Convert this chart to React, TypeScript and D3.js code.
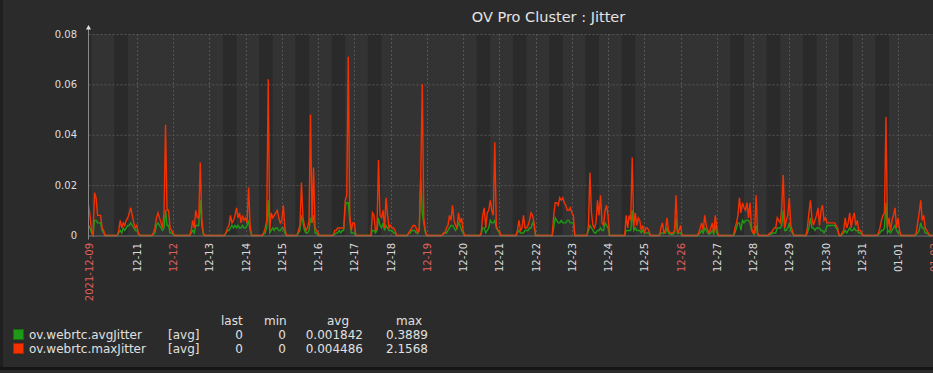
import React from "react";
import * as d3 from "d3";

// first sample / end of the time window
const startTime = new Date(2021, 11, 9, 16);
const endTime = new Date(2022, 0, 2, 0);

// hourly samples starting 2021-12-09 16:00, one line per day, in ms
const maxJitterMs = [
  /* 12-09 */ 12, 8, 2, 0, 17, 15, 8, 8,
  /* 12-10 */ 8, 3, 2, 0, 0, 0, 0, 0, 0, 0, 0, 0, 2, 6, 3, 5, 4, 6, 7, 9, 11, 8, 5, 3,
  /* 12-11 */ 4, 1, 0, 0, 0, 0, 0, 0, 0, 0, 0, 1, 3, 7, 9, 7, 5, 3, 9, 44, 10, 10, 3, 2,
  /* 12-12 */ 1, 0, 0, 0, 0, 0, 0, 0, 0, 0, 0, 0, 2, 6, 3, 10, 7, 7, 29, 7, 1, 0, 0, 0,
  /* 12-13 */ 0, 0, 0, 0, 0, 0, 0, 0, 0, 0, 0, 1, 3, 4, 8, 5, 6, 8, 11, 7, 9, 5, 8, 6,
  /* 12-14 */ 7, 5, 19, 4, 0, 0, 0, 0, 0, 0, 0, 0, 1, 3, 6, 62, 2, 9, 7, 8, 9, 10, 7, 5,
  /* 12-15 */ 6, 12, 3, 0, 0, 0, 0, 0, 0, 0, 0, 2, 4, 21, 7, 4, 2, 3, 6, 48, 5, 27, 3, 2,
  /* 12-16 */ 1, 0, 0, 0, 0, 0, 0, 0, 0, 0, 0, 2, 2, 3, 3, 3, 3, 3, 14, 16, 71, 8, 2, 5,
  /* 12-17 */ 5, 0, 0, 0, 0, 0, 0, 0, 0, 0, 0, 0, 9, 8, 2, 3, 30, 8, 7, 10, 3, 15, 8, 3,
  /* 12-18 */ 4, 3, 3, 2, 0, 0, 0, 0, 0, 0, 0, 0, 1, 2, 3, 4, 4, 3, 1, 3, 25, 60, 7, 2,
  /* 12-19 */ 0, 0, 0, 0, 0, 0, 0, 0, 0, 0, 0, 1, 1, 3, 4, 8, 6, 12, 6, 4, 3, 9, 5, 7,
  /* 12-20 */ 2, 0, 0, 0, 0, 0, 0, 0, 0, 0, 0, 0, 1, 8, 11, 3, 9, 10, 14, 10, 8, 37, 4, 2,
  /* 12-21 */ 2, 0, 0, 0, 0, 0, 0, 0, 0, 0, 0, 0, 2, 6, 2, 3, 8, 3, 3, 4, 6, 9, 8, 5,
  /* 12-22 */ 0, 0, 0, 0, 0, 0, 0, 0, 0, 0, 0, 0, 8, 13, 13, 12, 15, 14, 15, 13, 12, 10, 10, 11,
  /* 12-23 */ 9, 8, 0, 0, 0, 0, 0, 0, 0, 0, 0, 4, 25, 9, 4, 3, 5, 14, 8, 16, 5, 4, 10, 12,
  /* 12-24 */ 8, 0, 0, 0, 0, 0, 0, 0, 0, 0, 0, 0, 8, 3, 8, 6, 31, 3, 9, 4, 7, 6, 2, 4,
  /* 12-25 */ 1, 3, 3, 2, 0, 0, 0, 0, 0, 0, 0, 3, 5, 1, 2, 7, 2, 1, 1, 1, 2, 16, 1, 2,
  /* 12-26 */ 4, 0, 0, 0, 0, 0, 0, 0, 0, 0, 0, 0, 1, 3, 5, 2, 8, 4, 2, 1, 3, 5, 1, 8,
  /* 12-27 */ 3, 0, 0, 0, 0, 0, 0, 0, 0, 0, 0, 0, 3, 5, 8, 15, 9, 13, 11, 10, 13, 7, 13, 3,
  /* 12-28 */ 1, 1, 16, 1, 0, 0, 0, 0, 0, 0, 0, 1, 1, 2, 3, 3, 7, 6, 5, 11, 24, 3, 6, 8,
  /* 12-29 */ 15, 4, 2, 0, 0, 0, 0, 0, 0, 0, 0, 0, 3, 9, 14, 7, 4, 6, 8, 11, 4, 10, 12, 6,
  /* 12-30 */ 7, 5, 5, 5, 5, 5, 5, 4, 3, 0, 0, 1, 2, 7, 3, 5, 9, 3, 7, 9, 4, 6, 2, 2,
  /* 12-31 */ 1, 0, 0, 0, 0, 0, 0, 0, 0, 0, 0, 1, 3, 6, 8, 9, 47, 3, 7, 2, 6, 8, 11, 3,
  /* 01-01 */ 7, 2, 0, 0, 0, 0, 0, 0, 0, 0, 0, 0, 1, 5, 9, 14, 6, 8, 3, 2, 1, 0, 0, 0,
];

const avgJitterMs = [
  /* 12-09 */ 4, 3, 1, 0, 6, 6, 5, 5,
  /* 12-10 */ 5, 2, 1, 0, 0, 0, 0, 0, 0, 0, 0, 0, 1, 2, 1, 3, 2, 3, 4, 4, 5, 4, 3, 2,
  /* 12-11 */ 2, 1, 0, 0, 0, 0, 0, 0, 0, 0, 0, 0.5, 1, 4, 5, 4, 3, 2, 3, 10, 4, 4, 1, 1,
  /* 12-12 */ 0.5, 0, 0, 0, 0, 0, 0, 0, 0, 0, 0, 0, 1, 2, 1, 4, 4, 4, 14, 4, 0.5, 0, 0, 0,
  /* 12-13 */ 0, 0, 0, 0, 0, 0, 0, 0, 0, 0, 0, 1, 2, 2, 3, 4, 3, 4, 3, 4, 3, 3, 4, 3,
  /* 12-14 */ 3, 4, 6, 2, 0, 0, 0, 0, 0, 0, 0, 0, 0.5, 1, 3, 14, 1, 2, 3, 2, 3, 3, 2, 2,
  /* 12-15 */ 3, 3, 1, 0, 0, 0, 0, 0, 0, 0, 0, 1, 2, 8, 5, 2, 1, 1, 2, 7, 5, 8, 1, 1,
  /* 12-16 */ 0, 0, 0, 0, 0, 0, 0, 0, 0, 0, 0, 0.5, 1, 1, 2, 1, 2, 2, 12, 13, 13, 6, 1, 1,
  /* 12-17 */ 1, 0, 0, 0, 0, 0, 0, 0, 0, 0, 0, 0, 2, 2, 1, 2, 7, 4, 3, 5, 2, 4, 3, 2,
  /* 12-18 */ 2, 2, 1, 1, 0, 0, 0, 0, 0, 0, 0, 0, 1, 1, 2, 2, 2, 1, 1, 2, 23, 9, 5, 1,
  /* 12-19 */ 0, 0, 0, 0, 0, 0, 0, 0, 0, 0, 0, 0.5, 1, 1, 2, 3, 4, 4, 3, 2, 3, 5, 4, 2,
  /* 12-20 */ 1, 0, 0, 0, 0, 0, 0, 0, 0, 0, 0, 0, 0.5, 3, 3, 1, 2, 3, 6, 5, 5, 6, 3, 2,
  /* 12-21 */ 1, 0, 0, 0, 0, 0, 0, 0, 0, 0, 0, 0, 1, 2, 1, 1, 1, 2, 2, 2, 3, 3, 5, 4,
  /* 12-22 */ 0, 0, 0, 0, 0, 0, 0, 0, 0, 0, 0, 0, 3, 7, 6, 5, 5, 6, 5, 5, 5, 6, 6, 5,
  /* 12-23 */ 5, 5, 0, 0, 0, 0, 0, 0, 0, 0, 0, 2, 4, 3, 2, 1, 1, 2, 2, 3, 2, 2, 5, 4,
  /* 12-24 */ 3, 0, 0, 0, 0, 0, 0, 0, 0, 0, 0, 0, 2, 2, 2, 2, 10, 2, 3, 2, 2, 2, 1, 2,
  /* 12-25 */ 1, 1, 1, 1, 0, 0, 0, 0, 0, 0, 0, 1, 1, 1, 1, 3, 1, 0.5, 0.5, 0.5, 1, 7, 1, 1,
  /* 12-26 */ 1, 0, 0, 0, 0, 0, 0, 0, 0, 0, 0, 0, 0.5, 1, 2, 1, 3, 2, 1, 0.5, 1, 2, 0.5, 4,
  /* 12-27 */ 1, 0, 0, 0, 0, 0, 0, 0, 0, 0, 0, 0, 1, 3, 5, 5, 2, 6, 5, 6, 6, 6, 5, 2,
  /* 12-28 */ 1, 0.5, 4, 0.5, 0, 0, 0, 0, 0, 0, 0, 0.5, 0.5, 1, 1, 1, 3, 3, 3, 4, 10, 2, 2, 3,
  /* 12-29 */ 5, 2, 1, 0, 0, 0, 0, 0, 0, 0, 0, 0, 1, 3, 7, 3, 3, 2, 3, 3, 3, 2, 2, 1,
  /* 12-30 */ 2, 4, 4, 4, 4, 4, 4, 3, 2, 0, 0, 0.5, 1, 2, 1, 2, 3, 2, 2, 3, 2, 2, 1, 1,
  /* 12-31 */ 0.5, 0, 0, 0, 0, 0, 0, 0, 0, 0, 0, 0.5, 1, 2, 2, 3, 13, 1, 2, 1, 2, 3, 4, 2,
  /* 01-01 */ 1, 1, 0, 0, 0, 0, 0, 0, 0, 0, 0, 0, 0.5, 1, 2, 5, 3, 3, 1, 1, 0.5, 0, 0, 0,
];

const yTicks = [0, 0.02, 0.04, 0.06, 0.08];

const seriesNames = ["ov.webrtc.avgJitter", "ov.webrtc.maxJitter"];
const seriesColors = ["#1f9a16", "#f63100"];
const legendFunc = ["[avg]", "[avg]"];
const legendLast = ["0", "0"];
const legendMin = ["0", "0"];
const legendAvg = ["0.001842", "0.004486"];
const legendMax = ["0.3889", "2.1568"];

const font = "DejaVu Sans, sans-serif";

export default function App() {
  const width = 933;
  const height = 373;
  const left = 88.5;
  const right = 934.3;
  const top = 34;
  const bottom = 235.5;

  const x = d3.scaleTime().domain([startTime, endTime]).range([left, right]);
  const y = d3.scaleLinear().domain([0, 0.08]).range([bottom, top]);

  const times = maxJitterMs.map((_, i) => d3.timeHour.offset(startTime, i));
  const line = d3
    .line<number>()
    .x((_, i) => x(times[i]))
    .y((d) => y(d / 1000));

  // working hours (Mon-Fri 9-18) are shaded darker
  const workBands = d3.timeDay
    .range(d3.timeDay.floor(startTime), endTime)
    .filter((d) => d.getDay() >= 1 && d.getDay() <= 5)
    .map((d) => {
      const a = d3.timeHour.offset(d, 9);
      const b = d3.timeHour.offset(d, 18);
      return [a < startTime ? startTime : a, b > endTime ? endTime : b];
    })
    .filter(([a, b]) => b > a);

  const days = d3.timeDay.range(new Date(2021, 11, 11), endTime);
  const fmtDay = d3.timeFormat("%m-%d");
  const fmtFull = d3.timeFormat("%Y-%m-%d");
  const xLabels = [
    { t: startTime, text: fmtFull(startTime), red: true },
    ...days.map((d) => ({ t: d, text: fmtDay(d), red: d.getDay() === 0 })),
    { t: endTime, text: fmtDay(endTime), red: true },
  ];

  return (
    <svg
      width={width}
      height={height}
      style={{ position: "absolute", left: 0, top: 0, display: "block" }}
      fontFamily={font}
    >
      <rect width={width} height={height} fill="#2b2b2b" />
      <rect x={0} y={0} width={3} height={367} fill="#1f1f1f" />
      <rect x={0} y={367} width={width} height={3} fill="#161616" />

      <text x={548.5} y={22} textAnchor="middle" fontSize={14.5} fill="#e4e4e4">
        OV Pro Cluster : Jitter
      </text>

      <rect x={left} y={top} width={right - left} height={bottom - top} fill="#333333" />
      {workBands.map(([a, b], i) => (
        <rect key={i} x={x(a)} y={top} width={x(b) - x(a)} height={bottom - top} fill="#2a2a2a" />
      ))}

      {yTicks.slice(1).map((v) => (
        <line key={v} x1={left} x2={right} y1={y(v) + 0.5} y2={y(v) + 0.5}
          stroke="#555" strokeDasharray="2,2" />
      ))}
      {days.map((d) => (
        <line key={+d} x1={Math.round(x(d)) + 0.5} x2={Math.round(x(d)) + 0.5} y1={top} y2={bottom}
          stroke="#555" strokeDasharray="2,2" />
      ))}

      {yTicks.map((v) => (
        <text key={v} x={77} y={y(v) + 3.6} textAnchor="end" fontSize={10} fill="#dedede">
          {v === 0 ? "0" : String(v)}
        </text>
      ))}

      {xLabels.map((l, i) => (
        <text
          key={i}
          transform={`translate(${x(l.t) + 4},243) rotate(-90)`}
          textAnchor="end"
          fontSize={10}
          fill={l.red ? "#e0605a" : "#dcdcdc"}
        >
          {l.text}
        </text>
      ))}

      <path d={line(avgJitterMs) ?? ""} fill="none" stroke={seriesColors[0]} strokeWidth={1.4} />
      <path d={line(maxJitterMs) ?? ""} fill="none" stroke={seriesColors[1]} strokeWidth={1.4} />

      <line x1={left} x2={width} y1={bottom + 0.5} y2={bottom + 0.5} stroke="#777" />
      <line x1={left} x2={left} y1={27} y2={bottom + 4} stroke="#888" />
      <path d={`M${left - 2.5},29.5 L${left + 2.5},29.5 L${left},25 Z`} fill="#e0e0e0" />

      <g fontSize={12} fill="#e0e0e0">
        <text x={221} y={325}>last</text>
        <text x={264} y={325}>min</text>
        <text x={327} y={325}>avg</text>
        <text x={396} y={325}>max</text>
        {seriesNames.map((name, i) => {
          const by = 339 + i * 14;
          return (
            <g key={name}>
              <rect x={13.5} y={by - 9.5} width={10} height={10}
                fill={seriesColors[i]} stroke={d3.color(seriesColors[i])!.darker(1).toString()} />
              <text x={29} y={by}>{name}</text>
              <text x={168} y={by}>{legendFunc[i]}</text>
              <text x={243} y={by} textAnchor="end">{legendLast[i]}</text>
              <text x={286} y={by} textAnchor="end">{legendMin[i]}</text>
              <text x={363} y={by} textAnchor="end">{legendAvg[i]}</text>
              <text x={428} y={by} textAnchor="end">{legendMax[i]}</text>
            </g>
          );
        })}
      </g>
    </svg>
  );
}
